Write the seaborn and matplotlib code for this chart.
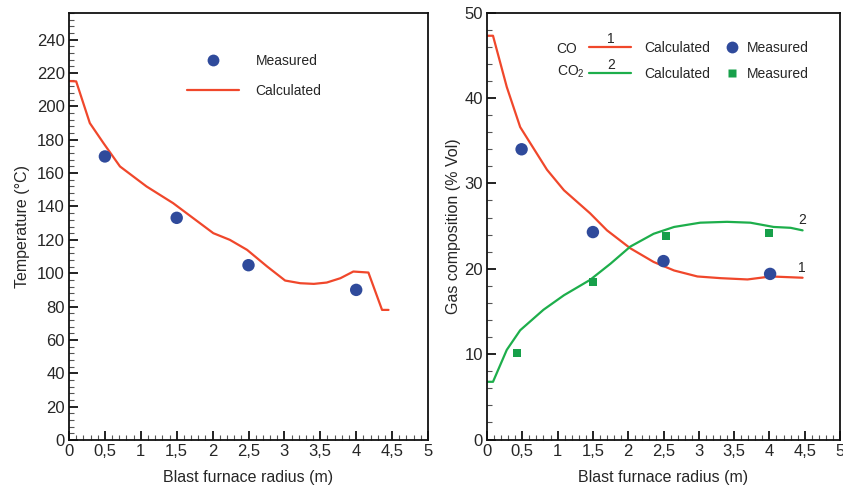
import matplotlib
matplotlib.use("Agg")
import matplotlib.pyplot as plt
import seaborn as sns
import pandas as pd
from matplotlib.ticker import MultipleLocator, FuncFormatter
from matplotlib.lines import Line2D

# ---------------- data ----------------
temp_calc_x = [0.0, 0.1, 0.29, 0.48, 0.71, 1.08, 1.45, 2.01, 2.24, 2.48, 2.76, 3.01,
               3.22, 3.41, 3.59, 3.78, 3.96, 4.17, 4.36, 4.45]
temp_calc_y = [215.2, 215, 190, 178, 164, 152, 142, 124, 120, 114, 104, 95.6,
               94, 93.6, 94.4, 97, 101, 100.4, 78, 78]
temp_meas_x = [0.5, 1.5, 2.5, 4.0]
temp_meas_y = [170, 133.2, 104.8, 90]

co_calc_x = [0.0, 0.085, 0.28, 0.47, 0.85, 1.09, 1.46, 1.70, 2.03, 2.36, 2.65, 2.98,
             3.31, 3.69, 4.02, 4.47]
co_calc_y = [47.3, 47.3, 41.3, 36.6, 31.6, 29.2, 26.5, 24.5, 22.4, 20.8, 19.8, 19.1,
             18.9, 18.75, 19.1, 18.95]
co2_calc_x = [0.0, 0.085, 0.28, 0.47, 0.80, 1.09, 1.46, 1.75, 2.03, 2.36, 2.65, 3.02,
              3.40, 3.73, 4.06, 4.30, 4.47]
co2_calc_y = [6.76, 6.76, 10.5, 12.8, 15.2, 16.9, 18.7, 20.6, 22.6, 24.1, 24.9, 25.4,
              25.5, 25.4, 24.9, 24.8, 24.5]
co_meas_x = [0.49, 1.50, 2.50, 4.01]
co_meas_y = [34.0, 24.3, 20.9, 19.4]
co2_meas_x = [0.42, 1.50, 2.53, 4.00]
co2_meas_y = [10.1, 18.5, 23.8, 24.2]

x_label = "Blast furnace radius (m)"
y_label_left = "Temperature (°C)"
y_label_right = "Gas composition (% Vol)"

RED = "#F0472B"
GREEN = "#1DAE4B"
BLUE = "#2F4A9B"
SQGREEN = "#17A04A"

sns.set_style("ticks")
plt.rcParams["font.family"] = ["Liberation Sans", "DejaVu Sans"]
plt.rcParams["mathtext.fontset"] = "custom"
plt.rcParams["mathtext.rm"] = "Liberation Sans"

fig = plt.figure(figsize=(8.43, 4.87), dpi=100)
ax1 = fig.add_axes([69/843, 1-440/487, (428-69)/843, (440-13)/487])
ax2 = fig.add_axes([487/843, 1-439.5/487, (840-487)/843, (439.5-12.7)/487])

def comma(v, pos):
    s = ("%g" % round(v, 3))
    return s.replace(".", ",")

def style(ax, ymax, ymajor, yminor):
    ax.set_xlim(0, 5)
    ax.set_ylim(0, ymax)
    ax.xaxis.set_major_locator(MultipleLocator(0.5))
    ax.xaxis.set_minor_locator(MultipleLocator(0.1))
    ax.yaxis.set_major_locator(MultipleLocator(ymajor))
    ax.yaxis.set_minor_locator(MultipleLocator(yminor))
    ax.xaxis.set_major_formatter(FuncFormatter(comma))
    ax.yaxis.set_major_formatter(FuncFormatter(comma))
    ax.tick_params(which="major", direction="in", length=6.5, width=1.4,
                   labelsize=12, pad=3, color="#222222")
    ax.tick_params(which="minor", direction="in", length=3.5, width=0.8, color="#555555")
    for sp in ax.spines.values():
        sp.set_visible(True)
        sp.set_linewidth(1.3)
        sp.set_color("#111111")
    ax.set_xlabel(x_label, fontsize=11.5, labelpad=8)

# ---------------- left panel ----------------
df_tc = pd.DataFrame({"x": temp_calc_x, "y": temp_calc_y})
df_tm = pd.DataFrame({"x": temp_meas_x, "y": temp_meas_y})
sns.lineplot(data=df_tc, x="x", y="y", ax=ax1, color=RED, linewidth=1.6,
             sort=False, estimator=None)
sns.scatterplot(data=df_tm, x="x", y="y", ax=ax1, color=BLUE, s=80,
                edgecolor="none", zorder=3)
style(ax1, 256, 20, 4)
ax1.set_ylabel(y_label_left, fontsize=11.5, labelpad=5)
h_meas = Line2D([], [], linestyle="none", marker="o", markersize=8.5,
                color=BLUE, markeredgecolor="none")
h_calc = Line2D([], [], color=RED, linewidth=1.6)
ax1.legend(handles=[h_meas, h_calc], labels=["Measured", "Calculated"],
           loc="upper left", bbox_to_anchor=(0.33, 0.905), frameon=False,
           fontsize=10, handlelength=3.7, handletextpad=1.2, labelspacing=1.15,
           borderaxespad=0, borderpad=0)

# ---------------- right panel ----------------
sns.lineplot(x=co_calc_x, y=co_calc_y, ax=ax2, color=RED, linewidth=1.6,
             sort=False, estimator=None)
sns.lineplot(x=co2_calc_x, y=co2_calc_y, ax=ax2, color=GREEN, linewidth=1.6,
             sort=False, estimator=None)
sns.scatterplot(x=co_meas_x, y=co_meas_y, ax=ax2, color=BLUE, s=80,
                edgecolor="none", zorder=3)
sns.scatterplot(x=co2_meas_x, y=co2_meas_y, ax=ax2, color=SQGREEN, marker="s",
                s=34, edgecolor="none", zorder=3)
style(ax2, 50, 10, 2)
ax2.set_ylabel(y_label_right, fontsize=11.5, labelpad=2)

ax2.text(co_calc_x[-1] - 0.06, co_calc_y[-1] + 0.35, "1", fontsize=10,
         ha="left", va="bottom")
ax2.text(co2_calc_x[-1] - 0.06, co2_calc_y[-1] + 0.35, "2", fontsize=10,
         ha="left", va="bottom")

l_co = Line2D([], [], color=RED, linewidth=1.6)
l_co2 = Line2D([], [], color=GREEN, linewidth=1.6)
leg1 = ax2.legend(handles=[l_co, l_co2], labels=["Calculated", "Calculated"],
                  loc="upper left", bbox_to_anchor=(0.29, 0.934), frameon=False,
                  fontsize=10, handlelength=3.0, handletextpad=0.95, labelspacing=0.85,
                  borderaxespad=0, borderpad=0)
ax2.add_artist(leg1)
m_co = Line2D([], [], linestyle="none", marker="o", markersize=8.5, color=BLUE,
              markeredgecolor="none")
m_co2 = Line2D([], [], linestyle="none", marker="s", markersize=5.5, color=SQGREEN,
               markeredgecolor="none")
ax2.legend(handles=[m_co, m_co2], labels=["Measured", "Measured"],
           loc="upper left", bbox_to_anchor=(0.675, 0.934), frameon=False,
           fontsize=10, handlelength=1.0, handletextpad=0.55, labelspacing=0.85,
           borderaxespad=0, borderpad=0)
ax2.text(0.197, 0.906, "CO", transform=ax2.transAxes, fontsize=10, va="baseline")
ax2.text(0.197, 0.852, "CO$_2$", transform=ax2.transAxes, fontsize=10, va="baseline")
ax2.text(0.34, 0.928, "1", transform=ax2.transAxes, fontsize=10, va="baseline")
ax2.text(0.34, 0.869, "2", transform=ax2.transAxes, fontsize=10, va="baseline")

fig.savefig("out.png", dpi=100)
